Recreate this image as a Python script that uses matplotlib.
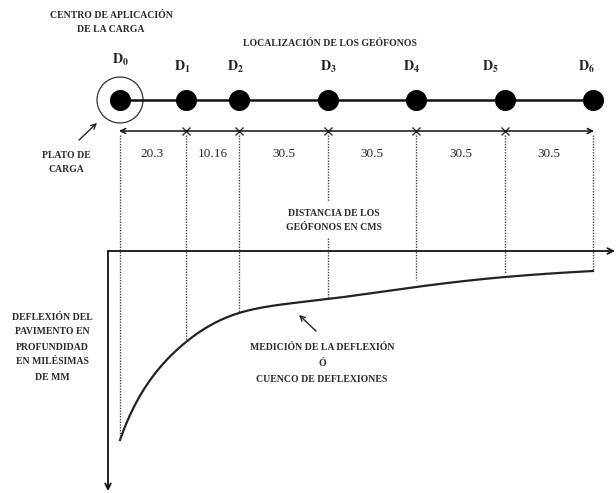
import numpy as np
import matplotlib
matplotlib.use("Agg")
import matplotlib.pyplot as plt

plt.rcParams['mathtext.fontset'] = 'stix'
SERIF = ['Liberation Serif', 'DejaVu Serif']

# ---- data ----
geophones = ["D_0", "D_1", "D_2", "D_3", "D_4", "D_5", "D_6"]
spacing_labels = ["20.3", "10.16", "30.5", "30.5", "30.5", "30.5"]
deflection = [189, 91, 62, 48, 36, 26, 20]   # relative deflection (drawing units)

# ---- layout (diagram positions, pixel space) ----
slot_x = [120, 186, 239, 328, 416, 505, 593]
label_dx = [0, -4, -4, 0, -5, -15, -7]
y_geo = 100
y_dim = 131
y_axis = 251
x_axis0 = 108

fig = plt.figure(figsize=(6.16, 4.93), dpi=100)
ax = fig.add_axes([0, 0, 1, 1])
ax.set_xlim(0, 616)
ax.set_ylim(493, 0)
ax.axis('off')

def txt(x, y, s, size=7, weight='bold', **kw):
    ax.text(x, y, s, ha='center', va='center', fontsize=size, family=SERIF,
            color='#2a2a2a', fontweight=weight, **kw)

# titles
txt(111, 15, "CENTRO DE APLICACIÓN")
txt(111, 30, "DE LA CARGA")
txt(330, 43, "LOCALIZACIÓN DE LOS GEÓFONOS")

# geophone labels
for i, (g, x) in enumerate(zip(geophones, slot_x)):
    y = 60 if i == 0 else 67
    ax.text(x + label_dx[i], y, r"$\mathbf{" + g + "}$", ha='center', va='center',
            fontsize=10, color='#222222')

# geophone line and circles
ax.plot([slot_x[0], slot_x[-1]], [y_geo, y_geo], color='#111111', lw=1.8, zorder=2)
ax.scatter(slot_x, [y_geo] * len(slot_x), s=200, color='black', zorder=3)
ax.add_patch(plt.Circle((slot_x[0], y_geo), 23, fill=False, ec='#333333', lw=0.9))

# dimension line
ax.annotate("", xy=(slot_x[0] - 1, y_dim), xytext=(slot_x[-1] + 1, y_dim),
            arrowprops=dict(arrowstyle='<->', color='#111111', lw=1.1,
                            shrinkA=0, shrinkB=0, mutation_scale=9))
ax.plot(slot_x[1:-1], [y_dim] * (len(slot_x) - 2), 'x', color='#333333', ms=6, mew=1.0)

for i, lab in enumerate(spacing_labels):
    xm = (slot_x[i] + slot_x[i + 1]) / 2
    if i == 0:
        xm = 152
    txt(xm, 154, lab, size=9.5, weight='normal')

# plate label + arrow
txt(66, 155, "PLATO DE")
txt(66, 170, "CARGA")
ax.annotate("", xy=(99, 121), xytext=(77, 142),
            arrowprops=dict(arrowstyle='->', color='#222222', lw=1.0, mutation_scale=9))

# axes
ax.annotate("", xy=(615, y_axis), xytext=(x_axis0, y_axis),
            arrowprops=dict(arrowstyle='->', color='#111111', lw=1.3,
                            shrinkA=0, shrinkB=0, mutation_scale=10))
ax.annotate("", xy=(x_axis0, 491), xytext=(x_axis0, y_axis),
            arrowprops=dict(arrowstyle='->', color='#111111', lw=1.3,
                            shrinkA=0, shrinkB=0, mutation_scale=10))

# deflection curve: natural cubic spline through the points in reciprocal space
xs = np.array(slot_x, float)
r = 1.0 / np.array(deflection, float)
n = len(xs)
h = np.diff(xs)
A = np.zeros((n, n))
b = np.zeros(n)
A[0, 0] = A[-1, -1] = 1
for k in range(1, n - 1):
    A[k, k - 1] = h[k - 1]
    A[k, k] = 2 * (h[k - 1] + h[k])
    A[k, k + 1] = h[k]
    b[k] = 6 * ((r[k + 1] - r[k]) / h[k] - (r[k] - r[k - 1]) / h[k - 1])
M = np.linalg.solve(A, b)
cx, cr = [], []
for k in range(n - 1):
    t = np.linspace(0, 1, 60)
    xx = xs[k] + t * h[k]
    a_ = xs[k + 1] - xx
    b_ = xx - xs[k]
    val = (M[k] * a_**3 + M[k + 1] * b_**3) / (6 * h[k]) \
        + (r[k] / h[k] - M[k] * h[k] / 6) * a_ + (r[k + 1] / h[k] - M[k + 1] * h[k] / 6) * b_
    cx.extend(xx)
    cr.extend(val)
cy = y_axis + 1.0 / np.array(cr)
ax.plot(cx, cy, color='#222222', lw=1.6, zorder=2)

ys = y_axis + np.array(deflection, float)
# dotted drop lines
for i, (x, yv) in enumerate(zip(slot_x, ys)):
    if i == 3:
        ax.plot([x, x], [y_dim + 4, 201], color='#444444', lw=1.0, ls=(0, (1, 1)))
        ax.plot([x, x], [238, yv], color='#444444', lw=1.0, ls=(0, (1, 1)))
    else:
        gap = 7 if i == 4 else (4 if i == 5 else 0)
        ax.plot([x, x], [y_dim + 4, yv - gap],
                color='#444444', lw=1.0, ls=(0, (1, 1)))

# texts
txt(334, 213, "DISTANCIA DE LOS")
txt(334, 228, "GEÓFONOS EN CMS")

for k, s in enumerate(["DEFLEXIÓN DEL", "PAVIMENTO EN", "PROFUNDIDAD",
                       "EN MILÉSIMAS", "DE MM"]):
    txt(52, 317 + k * 15, s)

txt(322, 348, "MEDICIÓN DE LA DEFLEXIÓN")
txt(322, 364, "Ó")
txt(322, 379, "CUENCO DE DEFLEXIONES")
ax.annotate("", xy=(297, 313), xytext=(318, 333),
            arrowprops=dict(arrowstyle='->', color='#222222', lw=1.0, mutation_scale=9))

fig.savefig("out.png", dpi=100)
